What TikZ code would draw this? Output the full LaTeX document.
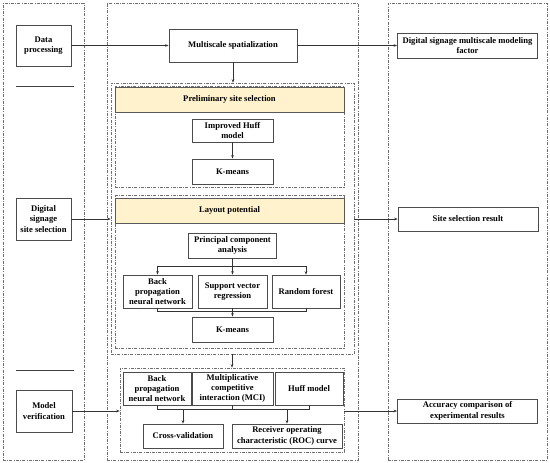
\documentclass[tikz,border=0pt]{standalone}
\usepackage{fontspec}
\setmainfont{Liberation Serif}
\usepackage{tikz}
\usetikzlibrary{arrows.meta,calc}
\definecolor{headyellow}{RGB}{255,242,204}
\definecolor{framegray}{RGB}{110,110,110}

\begin{document}
\begin{tikzpicture}[x=1pt,y=-1pt,>={Stealth[length=3.5pt,width=2.6pt]},
  font=\fontsize{8.6}{10.4}\selectfont\bfseries,
  box/.style={draw=black!70,line width=0.7pt,fill=white,align=center,inner sep=1pt},
  head/.style={draw=black!65,line width=0.7pt,fill=headyellow,align=center,minimum width=229,minimum height=25},
  frame/.style={draw=framegray,line width=0.6pt,dash pattern=on 3pt off 1.3pt on 0.8pt off 1.3pt,inner sep=0pt},
  link/.style={black!80,line width=0.6pt}]
\useasboundingbox (0,0) rectangle (550,463);
% columns
\node[frame,minimum width=81,minimum height=457] (colL) at (43.5,231.5) {};
\node[frame,minimum width=251,minimum height=457] (colM) at (232.5,231.5) {};
\node[frame,minimum width=159,minimum height=457] (colR) at (467.5,231.5) {};
\draw[black!75,line width=0.6pt] (16,86) -- (74,86);
\draw[black!75,line width=0.6pt] (16,370) -- (74,370);
% inner frames
\node[frame,minimum width=243,minimum height=271] (site) at (232.5,218.5) {};
\node[frame,minimum width=229,minimum height=101] (pre) at (229.5,136.5) {};
\node[frame,minimum width=229,minimum height=153] (lay) at (229.5,271.5) {};
\node[frame,minimum width=224,minimum height=84] (ver) at (232,410) {};
\node[head] (prehead) at (229.5,99.5) {Preliminary site selection};
\node[head] (layhead) at (229.5,210.5) {Layout potential};
% left column
\node[box,minimum width=55,minimum height=41] (dp) at (43.5,45.5) {Data\\processing};
\node[box,minimum width=55,minimum height=42] (dss) at (43.5,219) {Digital\\signage\\site selection};
\node[box,minimum width=56,minimum height=42] (mv) at (44,411) {Model\\verification};
% middle column
\node[box,minimum width=128,minimum height=33] (ms) at (233,45.5) {Multiscale spatialization};
\node[box,minimum width=81,minimum height=23] (ihm) at (232.5,130.5) {Improved Huff\\model};
\node[box,minimum width=81,minimum height=25] (km1) at (232.5,171.5) {K-means};
\node[box,minimum width=88,minimum height=25] (pca) at (232.5,245.5) {Principal component\\analysis};
\node[box,minimum width=69,minimum height=33] (bp1) at (157.5,291.5) {Back\\propagation\\neural network};
\node[box,minimum width=69,minimum height=33] (svr) at (232.5,291.5) {Support vector\\regression};
\node[box,minimum width=68,minimum height=33] (rf) at (306,291.5) {Random forest};
\node[box,minimum width=81,minimum height=25] (km2) at (232.5,329.5) {K-means};
\node[box,minimum width=68,minimum height=33] (bp2) at (157,388.5) {Back\\propagation\\neural network};
\node[box,minimum width=81,minimum height=33] (mci) at (232.5,388.5) {Multiplicative\\competitive\\interaction (MCI)};
\node[box,minimum width=68,minimum height=33] (huff) at (309,388.5) {Huff model};
\node[box,minimum width=80,minimum height=24] (cv) at (183,436) {Cross-validation};
\node[box,minimum width=110,minimum height=24] (roc) at (287,436) {Receiver operating\\characteristic (ROC) curve};
% right column
\node[box,minimum width=140,minimum height=25] (dsm) at (467.5,45.5) {Digital signage multiscale modeling\\factor};
\node[box,minimum width=140,minimum height=24] (ssr) at (468,219) {Site selection result};
\node[box,minimum width=140,minimum height=24] (acc) at (467.5,411) {Accuracy comparison of\\experimental results};
% connectors
\draw[link,->] (dp.east) -- (ms.west);
\draw[link,->] (ms.east) -- (dsm.west);
\draw[link,->] (ms.south) -- (ms.south |- site.north);
\draw[link,->] (dss.east) -- (dss.east -| site.west);
\draw[link,->] (ssr.west -| site.east) -- (ssr.west);
\draw[link,->] (ihm.south) -- (km1.north);
\draw[link,->] (pca.south) -- (svr.north);
\coordinate (pj) at ($(pca.south)!0.5!(svr.north)$);
\draw[link,->] (pj) -| (bp1.north);
\draw[link,->] (pj) -| (rf.north);
\draw[link] (bp1.south) -- ++(0,3) -| (rf.south);
\draw[link,->] (svr.south) -- (km2.north);
\draw[link,->] (site.south -| ver.north) -- (ver.north);
\draw[link,->] (mv.east) -- (mv.east -| ver.west);
\draw[link,->] (acc.west -| ver.east) -- (acc.west);
\coordinate (vj) at ($(mci.south)+(0,4)$);
\draw[link] (bp2.south) |- (vj) -| (huff.south);
\draw[link] (mci.south) -- (vj);
\draw[link,->] (cv.north |- vj) -- (cv.north);
\draw[link,->] (roc.north |- vj) -- (roc.north);
\end{tikzpicture}
\end{document}
